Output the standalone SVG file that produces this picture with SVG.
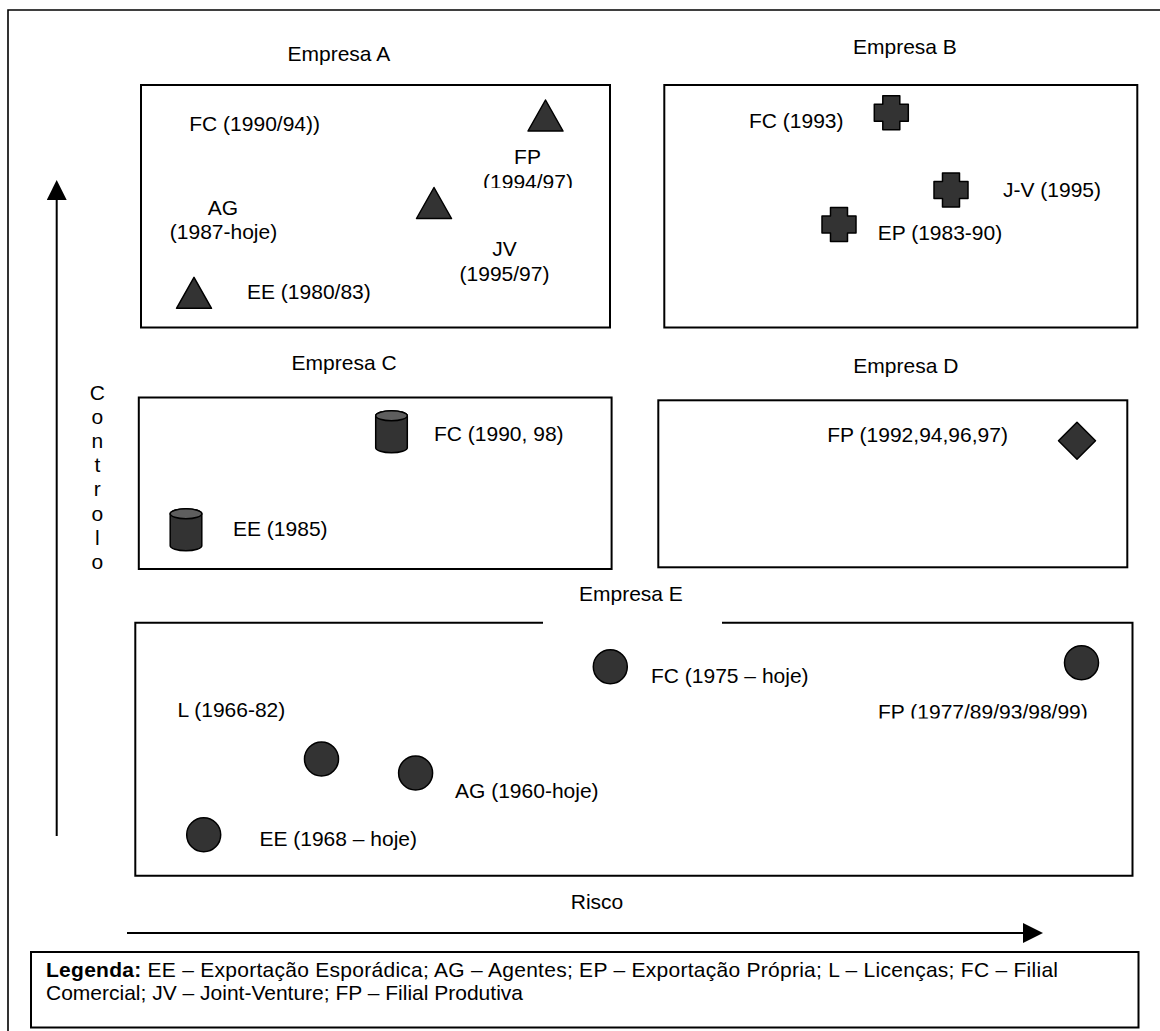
<svg xmlns="http://www.w3.org/2000/svg" xmlns:xlink="http://www.w3.org/1999/xlink" width="1160" height="1031" viewBox="0 0 1160 1031">
<style>
text{font-family:"Liberation Sans",Arial,sans-serif;font-size:21px;fill:#000}
.box{fill:none;stroke:#000;stroke-width:2}
.frame{fill:none;stroke:#000;stroke-width:1.6}
.mk{fill:#333;stroke:#000;stroke-width:1.5;stroke-linejoin:round}
.cyltop{fill:#5e5e5e;stroke:#000;stroke-width:1.5}
.axis{stroke:#000;stroke-width:2;fill:none}
.mid{text-anchor:middle}
</style>
<defs>
<marker id="arr" markerUnits="userSpaceOnUse" markerWidth="20" markerHeight="20" refX="0" refY="10" orient="auto" viewBox="0 0 20 20">
<path d="M0,0 L20,10 L0,20 Z" fill="#000"/>
</marker>
<path id="tri" class="mk" d="M0,-15.5 L17.5,15.5 L-17.5,15.5 Z"/>
<path id="cross" class="mk" d="M-8.5,-17 h17 v8.5 h8.5 v17 h-8.5 v8.5 h-17 v-8.5 h-8.5 v-17 h8.5 Z"/>
<path id="diamond" class="mk" d="M0,-18.5 L18.5,0 L0,18.5 L-18.5,0 Z"/>
<g id="cyl">
<path class="mk" d="M-15.8,-16 V16 A15.8,5 0 0 0 15.8,16 V-16 A15.8,5 0 0 0 -15.8,-16 Z"/>
<ellipse class="cyltop" cx="0" cy="-16" rx="15.8" ry="5"/>
</g>
<clipPath id="clipA"><rect x="470" y="160" width="120" height="28"/></clipPath>
<clipPath id="clipE"><rect x="860" y="690" width="260" height="28.5"/></clipPath>
</defs>

<g id="frame">
<path class="frame" d="M8,1031 V10 H1160"/>
</g>

<g id="connectors">
<line class="axis" x1="56.7" y1="836" x2="56.7" y2="200" marker-end="url(#arr)"/>
<line class="axis" x1="127" y1="933" x2="1023" y2="933" marker-end="url(#arr)"/>
</g>

<g id="empresa-a">
<text x="287.5" y="61">Empresa A</text>
<rect class="box" x="141" y="85" width="469" height="242.5"/>
<text x="189.3" y="131">FC (1990/94))</text>
<use xlink:href="#tri" href="#tri" transform="translate(545.5,115.5)"/>
<text class="mid" x="527.5" y="164">FP</text>
<text class="mid" x="528" y="188.5" clip-path="url(#clipA)">(1994/97)</text>
<use xlink:href="#tri" href="#tri" transform="translate(434,203)"/>
<text class="mid" x="223" y="215">AG</text>
<text class="mid" x="223.5" y="239.3">(1987-hoje)</text>
<text class="mid" x="504.5" y="256">JV</text>
<text class="mid" x="504.5" y="281">(1995/97)</text>
<use xlink:href="#tri" href="#tri" transform="translate(194,292.8)"/>
<text x="247" y="299.3">EE (1980/83)</text>
</g>

<g id="empresa-b">
<text x="853" y="54">Empresa B</text>
<rect class="box" x="664.3" y="85" width="473" height="242.5"/>
<text x="749" y="128.3">FC (1993)</text>
<use xlink:href="#cross" href="#cross" transform="translate(891.3,112.7)"/>
<use xlink:href="#cross" href="#cross" transform="translate(951,190)"/>
<text x="1003" y="196.7">J-V (1995)</text>
<use xlink:href="#cross" href="#cross" transform="translate(839,224.5)"/>
<text x="877.7" y="240">EP (1983-90)</text>
</g>

<g id="empresa-c">
<text x="291.6" y="370">Empresa C</text>
<rect class="box" x="138.8" y="397.5" width="472.8" height="171.5"/>
<use xlink:href="#cyl" href="#cyl" transform="translate(391.5,431.8)"/>
<text x="434" y="441">FC (1990, 98)</text>
<use xlink:href="#cyl" href="#cyl" transform="translate(186,529.7)"/>
<text x="233" y="535.7">EE (1985)</text>
</g>

<g id="empresa-d">
<text x="853.3" y="372.5">Empresa D</text>
<rect class="box" x="658.3" y="400.3" width="469" height="167"/>
<text x="827.3" y="441.7">FP (1992,94,96,97)</text>
<use xlink:href="#diamond" href="#diamond" transform="translate(1077,440.8)"/>
</g>

<g id="empresa-e">
<text x="579" y="601">Empresa E</text>
<path class="box" d="M543,622.7 H135.3 V875.7 H1132.5 V622.7 H722"/>
<circle class="mk" cx="610.3" cy="666.7" r="17"/>
<text x="651" y="682.7">FC (1975 – hoje)</text>
<circle class="mk" cx="1081.5" cy="662.7" r="17"/>
<text x="878" y="719" clip-path="url(#clipE)">FP (1977/89/93/98/99)</text>
<text x="177.5" y="717">L (1966-82)</text>
<circle class="mk" cx="321.5" cy="759" r="17"/>
<circle class="mk" cx="415.6" cy="773" r="17"/>
<text x="455" y="798.3">AG (1960-hoje)</text>
<circle class="mk" cx="203.7" cy="834.7" r="17"/>
<text x="259.4" y="845.7">EE (1968 – hoje)</text>
</g>

<g id="axis-labels">
<text class="mid" x="97.3" y="399.5">C</text>
<text class="mid" x="97.3" y="423.7">o</text>
<text class="mid" x="97.3" y="447.9">n</text>
<text class="mid" x="97.3" y="472.1">t</text>
<text class="mid" x="97.3" y="496.3">r</text>
<text class="mid" x="97.3" y="520.5">o</text>
<text class="mid" x="97.3" y="544.7">l</text>
<text class="mid" x="97.3" y="568.9">o</text>
<text class="mid" x="597" y="909">Risco</text>
</g>

<g id="legenda">
<rect class="box" x="31" y="952" width="1107.5" height="75.5"/>
<text x="46" y="977" textLength="1012" lengthAdjust="spacing"><tspan font-weight="bold">Legenda:</tspan> EE – Exportação Esporádica; AG – Agentes; EP – Exportação Própria;  L – Licenças; FC – Filial</text>
<text x="46" y="999.5">Comercial; JV – Joint-Venture; FP – Filial Produtiva</text>
</g>
</svg>
